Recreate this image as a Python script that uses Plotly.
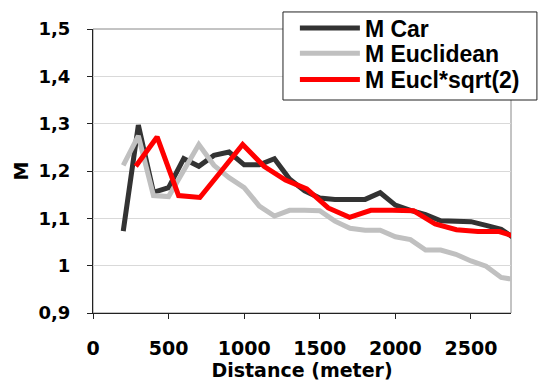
import plotly.graph_objects as go

# Data
dist = [200, 300, 400, 500, 600, 700, 800, 900, 1000, 1100, 1200, 1300, 1400,
        1500, 1600, 1700, 1800, 1900, 2000, 2100, 2200, 2300, 2400, 2500, 2600,
        2700, 2800]
m_car = [1.073, 1.297, 1.155, 1.165, 1.226, 1.210, 1.233, 1.240, 1.213, 1.213,
         1.226, 1.183, 1.158, 1.143, 1.140, 1.140, 1.140, 1.154, 1.128, 1.117,
         1.108, 1.095, 1.093, 1.093, 1.085, 1.077, 1.055]
m_eucl = [1.212, 1.274, 1.148, 1.146, 1.201, 1.256, 1.212, 1.186, 1.165, 1.126,
          1.105, 1.117, 1.117, 1.116, 1.094, 1.079, 1.075, 1.075, 1.061, 1.055,
          1.033, 1.033, 1.024, 1.010, 0.999, 0.975, 0.970]
dist_sqrt2 = [283, 424, 566, 707, 849, 990, 1131, 1273, 1414, 1556, 1697, 1838,
              1980, 2121, 2263, 2404, 2546, 2687, 2828]
m_sqrt2 = [1.210, 1.272, 1.148, 1.144, 1.200, 1.256, 1.210, 1.181, 1.162, 1.122,
           1.102, 1.117, 1.117, 1.116, 1.088, 1.076, 1.072, 1.072, 1.058]

y_tickvals = [0.9, 1.0, 1.1, 1.2, 1.3, 1.4, 1.5]
y_ticktext = ["0,9", "1", "1,1", "1,2", "1,3", "1,4", "1,5"]
x_tickvals = [0, 500, 1000, 1500, 2000, 2500]

axis_font = "DejaVu Sans, sans-serif"
legend_font = "Liberation Sans, Arial, sans-serif"

fig = go.Figure()
fig.add_trace(go.Scatter(x=dist, y=m_car, mode="lines", name="M Car",
                         line=dict(color="#333333", width=5), legend="legend"))
fig.add_trace(go.Scatter(x=dist, y=m_eucl, mode="lines", name="M Euclidean",
                         line=dict(color="#C0C0C0", width=5), legend="legend2"))
fig.add_trace(go.Scatter(x=dist_sqrt2, y=m_sqrt2, mode="lines", name="M Eucl*sqrt(2)",
                         line=dict(color="#FF0000", width=5), legend="legend3"))

leg_common = dict(
    xanchor="left", yanchor="middle",
    bgcolor="rgba(0,0,0,0)", borderwidth=0,
    font=dict(family=legend_font, size=23, color="black", weight="bold"),
    itemwidth=60,
)

fig.update_layout(
    width=538, height=387,
    margin=dict(l=93, r=27, t=29, b=74, autoexpand=False),
    paper_bgcolor="white", plot_bgcolor="white",
    font=dict(family=axis_font, color="black", size=16),
    showlegend=True,
    legend=dict(x=0.483, y=1.0035, **leg_common),
    legend2=dict(x=0.483, y=0.914, **leg_common),
    legend3=dict(x=0.483, y=0.822, **leg_common),
    shapes=[
        dict(type="rect", xref="paper", yref="paper", x0=0, x1=1, y0=0, y1=1,
             line=dict(color="#888888", width=1), layer="below"),
        dict(type="rect", xref="paper", yref="paper", x0=0.4545, x1=1.062,
             y0=0.750, y1=1.060, line=dict(color="#222222", width=1),
             fillcolor="white", layer="above"),
    ],
)

fig.update_xaxes(
    range=[0, 2765], tickvals=x_tickvals,
    showgrid=False, zeroline=False,
    showline=True, linecolor="#222222", linewidth=1,
    ticks="outside", ticklen=5, tickcolor="#222222",
    ticklabelstandoff=13,
    tickfont=dict(family=axis_font, size=19, weight="bold"),
    title=dict(text="Distance (meter)", standoff=0,
               font=dict(family=axis_font, size=19, weight="bold")),
)
fig.update_yaxes(
    range=[0.9, 1.5], tickvals=y_tickvals, ticktext=y_ticktext,
    showgrid=True, gridcolor="#D9D9D9", gridwidth=1, zeroline=False,
    showline=True, linecolor="#222222", linewidth=1,
    ticks="outside", ticklen=5, tickcolor="#222222",
    ticklabelstandoff=13,
    tickfont=dict(family=axis_font, size=18, weight="bold"),
    title=dict(text="M", standoff=4,
               font=dict(family=axis_font, size=19, weight="bold")),
)

fig.write_html("out.html")
